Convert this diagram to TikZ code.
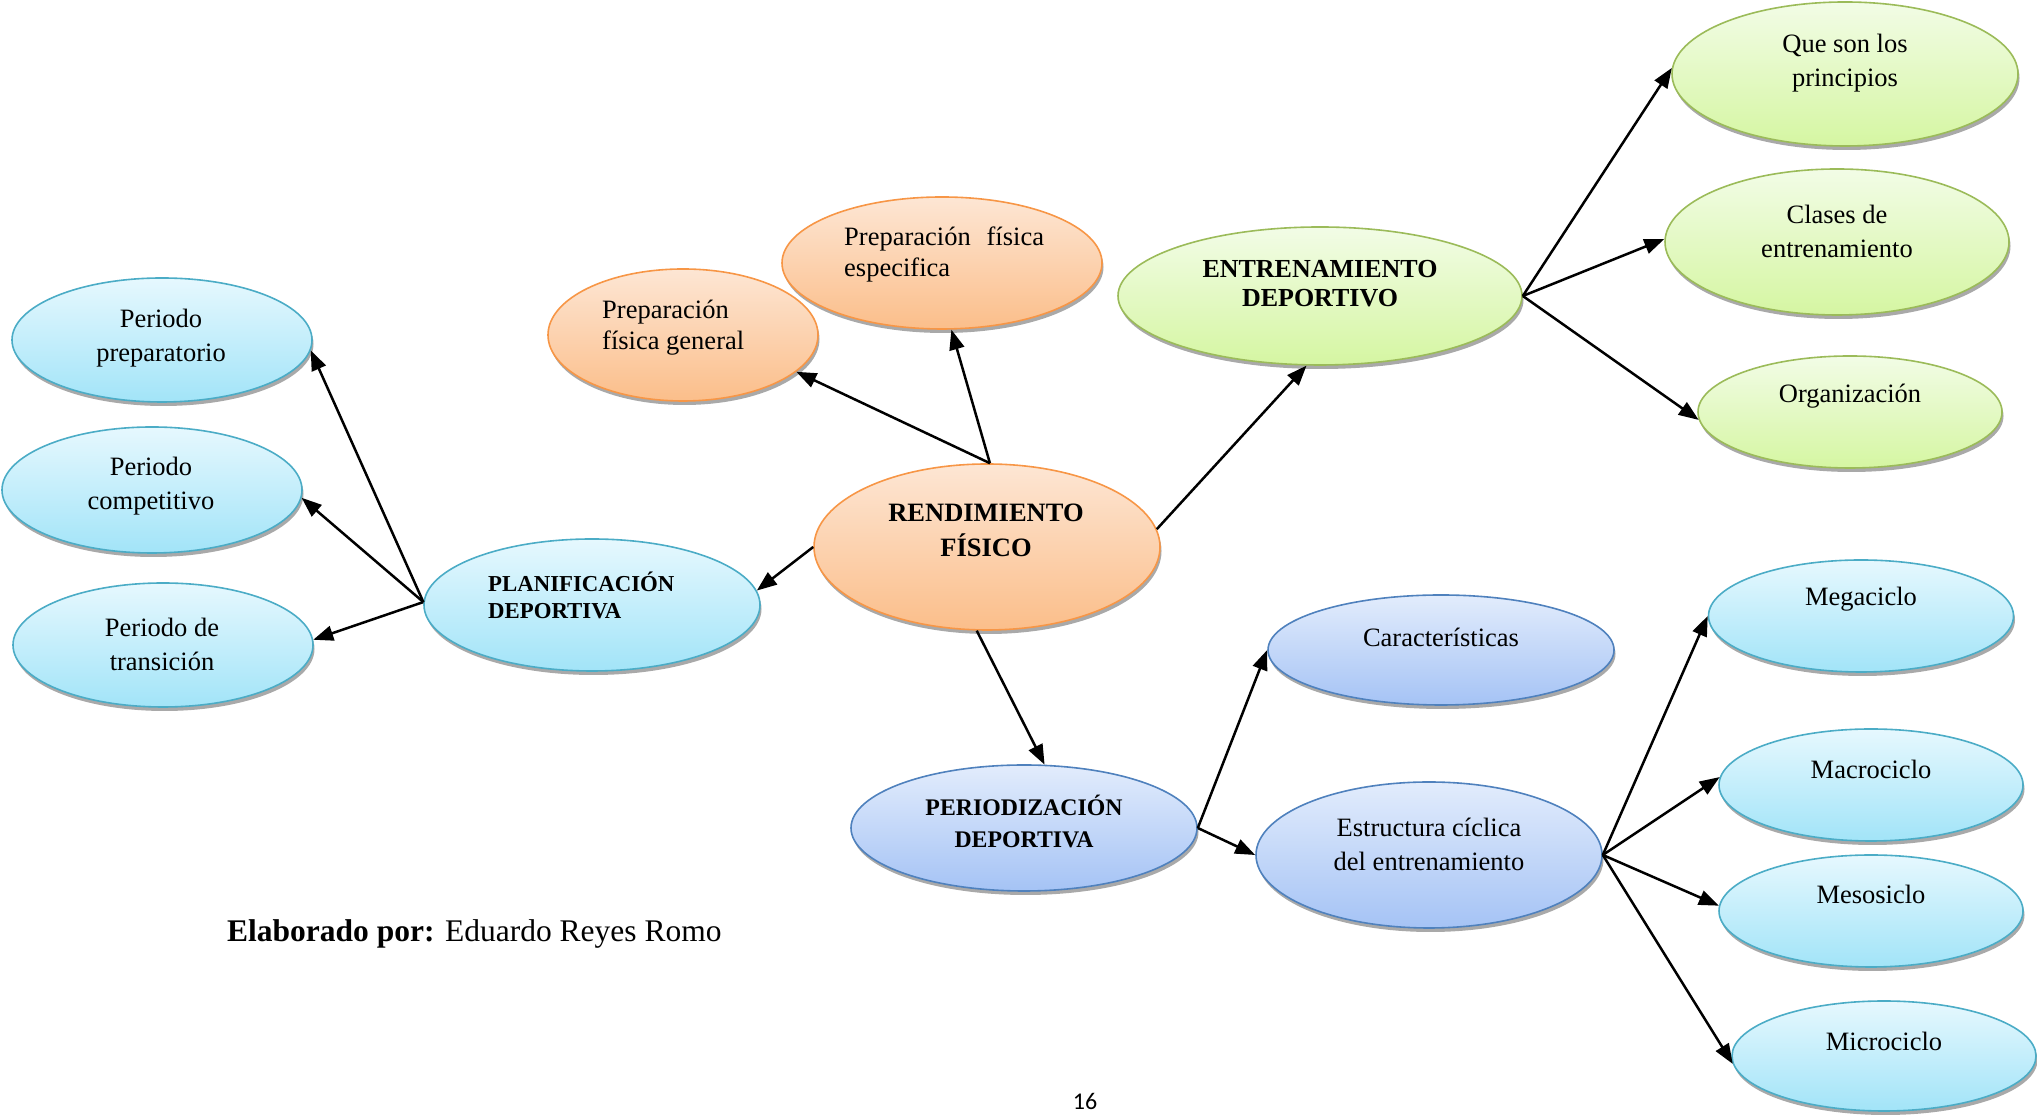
\documentclass[tikz,border=0pt]{standalone}
\usepackage{fontspec}
\setmainfont{Liberation Serif}
\newfontfamily\pagefont{Carlito}
\usetikzlibrary{shapes.geometric,arrows.meta,shadows}
\definecolor{orB}{HTML}{F79646}\definecolor{orT}{HTML}{FDE6D4}\definecolor{orD}{HTML}{FBBE8A}
\definecolor{grB}{HTML}{9BBB59}\definecolor{grT}{HTML}{F2FCE6}\definecolor{grD}{HTML}{D5F6A2}
\definecolor{blB}{HTML}{4F81BD}\definecolor{blT}{HTML}{E2ECFC}\definecolor{blD}{HTML}{A5C3F5}
\definecolor{cyB}{HTML}{4BACC6}\definecolor{cyT}{HTML}{E6F8FE}\definecolor{cyD}{HTML}{A2E4F8}
\begin{document}
\begin{tikzpicture}[x=1pt,y=1pt,
  bubble/.style={ellipse,inner sep=0pt,line width=1.6pt,
     drop shadow={shadow xshift=1.5pt,shadow yshift=-4pt,fill=black!45,opacity=0.75}},
  orb/.style={bubble,draw=orB,top color=orT,bottom color=orD},
  grb/.style={bubble,draw=grB,top color=grT,bottom color=grD},
  blb/.style={bubble,draw=blB,top color=blT,bottom color=blD},
  cyb/.style={bubble,draw=cyB,top color=cyT,bottom color=cyD},
  sz/.style 2 args={minimum width=#1pt,minimum height=#2pt},
  txt/.style={inner sep=0pt,align=center,font=\fontsize{26.5}{34}\selectfont},
  txtl/.style={inner sep=0pt,align=left,font=\fontsize{26.5}{31}\selectfont},
  ttl/.style={inner sep=0pt,align=center,font=\fontsize{26}{32}\selectfont\bfseries},
  arr/.style={-{Triangle[length=20pt,width=15pt]},line width=2.5pt}]
\useasboundingbox (0,0) rectangle (2037,1115);
% nodes
\node[orb,sz={346}{166}] (rend) at (987,568) {};
\node[ttl,font=\fontsize{26.5}{35}\selectfont\bfseries] (trend) at (986,585) {RENDIMIENTO\\FÍSICO};
\node[orb,sz={270}{132}] (pgen) at (683,780) {};
\node[txtl] (tpgen) [anchor=west] at (602,787) {Preparación\\física general};
\node[orb,sz={320}{132}] (pesp) at (942,852) {};
\node[txtl] (tpesp) [anchor=west] at (844,860) {Preparación\hspace{0.6em}física\\especifica};
\node[grb,sz={404}{138}] (entr) at (1320,819) {};
\node[ttl,font=\fontsize{26}{29}\selectfont\bfseries] (tentr) at (1320,831) {ENTRENAMIENTO\\DEPORTIVO};
\node[grb,sz={346}{144}] (que) at (1845,1041) {};
\node[txt] (tque) at (1845,1052) {Que son los\\principios};
\node[grb,sz={344}{146}] (clases) at (1837,873) {};
\node[txt] (tclases) at (1837,884) {Clases de\\entrenamiento};
\node[grb,sz={304}{112}] (org) at (1850,703) {};
\node[txt] (torg) at (1850,719) {Organización};
\node[cyb,sz={336}{132}] (plan) at (592,510) {};
\node[inner sep=0pt,align=left,font=\fontsize{22.8}{27}\selectfont\bfseries,anchor=west] (tplan) at (488,520) {PLANIFICACIÓN\\DEPORTIVA};
\node[cyb,sz={300}{124}] (pprep) at (162,775) {};
\node[txt] (tpprep) at (161,777) {Periodo\\preparatorio};
\node[cyb,sz={300}{126}] (pcomp) at (152,625) {};
\node[txt] (tpcomp) at (151,629) {Periodo\\competitivo};
\node[cyb,sz={300}{124}] (ptrans) at (163,470) {};
\node[txt] (tptrans) at (162,471) {Periodo de\\transición};
\node[blb,sz={346}{126}] (peri) at (1024,287) {};
\node[ttl,font=\fontsize{23.8}{32}\selectfont\bfseries] (tperi) at (1024,294) {PERIODIZACIÓN\\DEPORTIVA};
\node[blb,sz={346}{110}] (carac) at (1441,465) {};
\node[txt] (tcarac) at (1441,478) {Características};
\node[blb,sz={346}{146}] (estr) at (1429,260) {};
\node[txt] (testr) at (1429,271) {Estructura cíclica\\del entrenamiento};
\node[cyb,sz={305}{112}] (mega) at (1861,499) {};
\node[txt] (tmega) at (1861,516) {Megaciclo};
\node[cyb,sz={304}{112}] (macro) at (1871,330) {};
\node[txt] (tmacro) at (1871,346) {Macrociclo};
\node[cyb,sz={304}{112}] (meso) at (1871,204) {};
\node[txt] (tmeso) at (1871,221) {Mesosiclo};
\node[cyb,sz={304}{110}] (micro) at (1884,59) {};
\node[txt] (tmicro) at (1884,74) {Microciclo};
% connectors
\draw[arr] (rend.88) -- (pgen.-18);
\draw[arr] (rend.88) -- (pesp.-82);
\draw[arr] (rend.6) -- (entr.-101);
\draw[arr] (rend.180) -- (plan.5);
\draw[arr] (rend.263) -- (peri.72);
\draw[arr] (entr.0) -- (que.178);
\draw[arr] (entr.0) -- (clases.179);
\draw[arr] (entr.0) -- (org.183);
\draw[arr] (plan.179) -- (pprep.-4);
\draw[arr] (plan.179) -- (pcomp.-3);
\draw[arr] (plan.179) -- (ptrans.2);
\draw[arr] (peri.0) -- (carac.180);
\draw[arr] (peri.0) -- (estr.180);
\draw[arr] (estr.0) -- (mega.180);
\draw[arr] (estr.0) -- (macro.177);
\draw[arr] (estr.0) -- (meso.178);
\draw[arr] (estr.0) -- (micro.183);
% texts
\node[inner sep=0pt,anchor=base west,font=\fontsize{31.5}{36}\selectfont] (autor) at (227,173) {\textbf{Elaborado por:} Eduardo Reyes Romo};
\node[inner sep=0pt,anchor=base,font=\fontsize{24}{29}\pagefont] (pagina) at (1085,5) {16};
\end{tikzpicture}
\end{document}
